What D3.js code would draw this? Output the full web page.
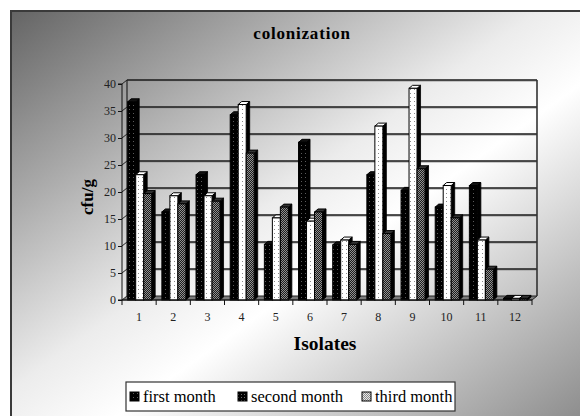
<!DOCTYPE html>
<html><head><meta charset="utf-8">
<script src="https://cdn.jsdelivr.net/npm/d3@7"></script>
<style>html,body{margin:0;padding:0;background:#fff;overflow:hidden}svg{display:block}</style>
</head><body>
<script>
const categories = ["1","2","3","4","5","6","7","8","9","10","11","12"];
const firstMonth  = [36.7, 16.3, 23.2, 34.3, 10.3, 29.2, 10.2, 23.2, 20.3, 17.2, 21.2, 0.3];
const secondMonth = [23.2, 19.3, 19.3, 36.2, 15.2, 14.6, 11.1, 32.2, 39.2, 21.2, 11.1, 0.3];
const thirdMonth  = [19.7, 17.8, 18.3, 27.2, 17.2, 16.3, 10.3, 12.3, 24.3, 15.2, 5.7, 0.3];
const seriesNames = ["first month", "second month", "third month"];
const yTicks = [0,5,10,15,20,25,30,35,40];

const W = 580, H = 416;
const svg = d3.select("body").append("svg").attr("width", W).attr("height", H);
const defs = svg.append("defs");

const g = defs.append("linearGradient").attr("id","bg").attr("x1",0).attr("y1",0).attr("x2",1).attr("y2",1);
[[0,"#646464"],[0.44,"#ececec"],[0.56,"#ffffff"],[1,"#7e7e7e"]].forEach(s=>g.append("stop").attr("offset",s[0]).attr("stop-color",s[1]));

function pat(id, w, h, bg, dots, dc){
  const p = defs.append("pattern").attr("id",id).attr("patternUnits","userSpaceOnUse").attr("width",w).attr("height",h);
  p.append("rect").attr("width",w).attr("height",h).attr("fill",bg);
  dots.forEach(d=>p.append("rect").attr("x",d[0]).attr("y",d[1]).attr("width",1).attr("height",1).attr("fill",dc));
}
pat("pBlack",4,4,"#000",[[1,1]],"#5a5a5a");
pat("pWhite",4,4,"#fff",[[2,1]],"#8a8a8a");
pat("pCheck",2,2,"#1c1c1c",[[0,0],[1,1]],"#909090");
pat("pLight",2,2,"#e8e8e8",[[0,0],[1,1]],"#8a8a8a");
pat("pDark",3,3,"#000",[[1,1]],"#6a6a6a");

svg.append("rect").attr("x",11).attr("y",11).attr("width",600).attr("height",430)
  .attr("fill","url(#bg)").attr("stroke","#3a3a3a").attr("stroke-width",2);

const x0 = 122, x1 = 532, DX = 5, DY = 4;
const x = d3.scaleBand().domain(categories).range([x0, x1]).padding(0);
const y = d3.scaleLinear().domain([0,40]).range([300,84]);

const plot = svg.append("g");
plot.append("path").attr("d",`M${x0},300L${x1},300L${x1+DX},${300-DY}L${x0+DX},${300-DY}Z`)
  .attr("fill","#7a7a7a").attr("stroke","#222").attr("stroke-width",1);
yTicks.filter(v=>v>0).forEach(v=>{
  const yy = y(v)-DY;
  plot.append("line").attr("x1",x0+DX).attr("x2",x1+DX).attr("y1",yy+1).attr("y2",yy+1).attr("stroke","#9a9a9a").attr("stroke-width",1);
  plot.append("line").attr("x1",x0+DX).attr("x2",x1+DX).attr("y1",yy).attr("y2",yy).attr("stroke","#1a1a1a").attr("stroke-width",1.4);
  plot.append("line").attr("x1",x0).attr("x2",x0+DX).attr("y1",y(v)).attr("y2",yy).attr("stroke","#222").attr("stroke-width",1);
});
plot.append("line").attr("x1",x0+DX).attr("x2",x0+DX).attr("y1",y(40)-DY).attr("y2",300-DY).attr("stroke","#222").attr("stroke-width",1.2);
plot.append("line").attr("x1",x1+DX).attr("x2",x1+DX).attr("y1",y(40)-DY).attr("y2",300-DY).attr("stroke","#333").attr("stroke-width",1.6);

const series = [firstMonth, secondMonth, thirdMonth];
const faces = [
  {front:"url(#pBlack)", side:"#000", top:"#111"},
  {front:"url(#pWhite)", side:"#000", top:"#fff"},
  {front:"url(#pCheck)", side:"#000", top:"#333"}
];
const bw = 8, bdx = 3.5, bdy = 3;
const bars = plot.append("g");
categories.forEach((c,i)=>{
  series.forEach((s,j)=>{
    const bx = x(c) + 5.7 + j*bw;
    const yt = y(s[i]), yb = 300;
    const gb = bars.append("g");
    gb.append("path").attr("d",`M${bx+bw},${yb}L${bx+bw+bdx},${yb-bdy}L${bx+bw+bdx},${yt-bdy}L${bx+bw},${yt}Z`)
      .attr("fill",faces[j].side).attr("stroke","#000").attr("stroke-width",0.8);
    gb.append("path").attr("d",`M${bx},${yt}L${bx+bdx},${yt-bdy}L${bx+bw+bdx},${yt-bdy}L${bx+bw},${yt}Z`)
      .attr("fill",faces[j].top).attr("stroke","#000").attr("stroke-width",1);
    gb.append("rect").attr("x",bx).attr("y",yt).attr("width",bw).attr("height",yb-yt)
      .attr("fill",faces[j].front).attr("stroke","#000").attr("stroke-width",1);
  });
});

const font = "'Liberation Serif','Tinos','Times New Roman','DejaVu Serif',serif";
const yAxis = d3.axisLeft(y).tickValues(yTicks).tickSize(4).tickPadding(2);
const ya = svg.append("g").attr("transform",`translate(${x0},0)`).call(yAxis);
ya.selectAll("text").attr("font-family",font).attr("font-size",12).attr("fill","#222");
ya.selectAll("line,path").attr("stroke","#111");
ya.select(".domain").attr("d",`M-4,${y(40)}H0V300H-4`);

const xa = svg.append("g").attr("transform","translate(0,300)");
xa.append("line").attr("x1",x0).attr("x2",x1).attr("y1",0).attr("y2",0).attr("stroke","#111");
d3.range(categories.length+1).forEach(k=>{
  const xx = x0 + k*x.bandwidth();
  xa.append("line").attr("x1",xx).attr("x2",xx).attr("y1",0).attr("y2",5).attr("stroke","#111");
});
categories.forEach(c=>{
  xa.append("text").attr("x",x(c)+x.bandwidth()/2).attr("y",21).attr("text-anchor","middle")
    .attr("font-family",font).attr("font-size",12).attr("fill","#222").text(c);
});

svg.append("text").attr("x",302).attr("y",39).attr("text-anchor","middle").attr("font-family",font)
  .attr("font-weight","bold").attr("font-size",17).attr("letter-spacing",0.8).text("colonization");
svg.append("text").attr("x",325).attr("y",350).attr("text-anchor","middle").attr("font-family",font)
  .attr("font-weight","bold").attr("font-size",19.5).text("Isolates");
svg.append("text").attr("transform","translate(93,197) rotate(-90)").attr("text-anchor","middle").attr("font-family",font)
  .attr("font-weight","bold").attr("font-size",17).text("cfu/g");

const lg = svg.append("g");
lg.append("rect").attr("x",126).attr("y",382).attr("width",329).attr("height",29).attr("fill","#fff").attr("stroke","#333").attr("stroke-width",1.2);
const swFill = ["url(#pBlack)","url(#pDark)","url(#pLight)"];
const lx = [130, 238, 362];
seriesNames.forEach((n,k)=>{
  lg.append("rect").attr("x",lx[k]).attr("y",392).attr("width",9).attr("height",9).attr("fill",swFill[k]).attr("stroke","#000").attr("stroke-width",1);
  lg.append("text").attr("x",lx[k]+13).attr("y",402).attr("font-family",font).attr("font-size",16.5).attr("fill","#000").text(n);
});
</script>
</body></html>
